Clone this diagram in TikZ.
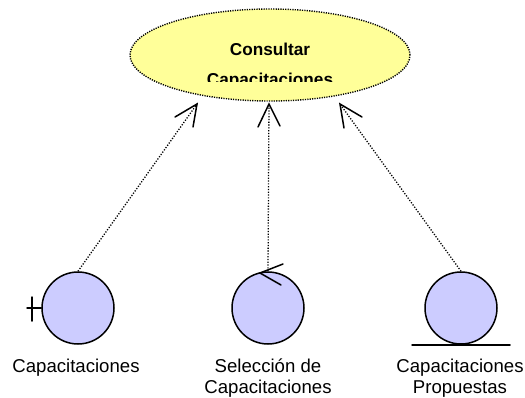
\documentclass[tikz,border=0pt]{standalone}
\usepackage{fontspec}
\setmainfont{Liberation Sans}
\usetikzlibrary{shapes.geometric}
\definecolor{uyellow}{HTML}{FFFF99}
\definecolor{ublue}{HTML}{CCCCFF}
\tikzset{
  x=1pt,y=-1pt,
  usecase/.style={ellipse,draw=black,fill=uyellow,dash pattern=on 1.2pt off 1.2pt,line width=1.4pt,minimum width=280pt,minimum height=92pt,inner sep=0pt},
  robust/.style={circle,draw=black,fill=ublue,line width=1.5pt,minimum size=72pt,inner sep=0pt},
  solidline/.style={line width=1.5pt,line cap=round},
  dep/.style={dash pattern=on 1.2pt off 1.6pt,line width=1.3pt},
  lbl/.style={font=\fontsize{18.6}{21.5}\selectfont,align=center,inner sep=0pt,text=black,anchor=base},
  ttl/.style={font=\fontsize{17.2}{20}\bfseries\selectfont,inner sep=0pt,anchor=base}
}
\begin{document}
\begin{tikzpicture}
\useasboundingbox (0,0) rectangle (525,397);
\node[usecase] (uc) at (270,55) {};
\begin{scope}
\clip (130,30) rectangle (410,81.5);
\node[ttl] (t1) at (270,55) {Consultar};
\node[ttl] (t2) at (270,85) {Capacitaciones};
\end{scope}
\node[robust] (a) at (78,308) {};
\node[robust] (b) at (268,308) {};
\node[robust] (c) at (461,308) {};
\coordinate (ta) at (197,104);
\coordinate (tb) at (269,104);
\coordinate (tc) at (340,104);
\coordinate (ab) at (27,308);
\draw[dep] (a.north) -- (ta);
\draw[dep] (b.north) -- (tb);
\draw[dep] (c.north) -- (tc);
\draw[solidline] (175,117) -- (ta) -- (193,127);
\draw[solidline] (258,127) -- (tb) -- (280,126);
\draw[solidline] (362,117) -- (tc) -- (344,128);
% boundary
\draw[solidline] (a.west) -- (ab);
\draw[solidline] (32,297) -- (32,321);
% control
\draw[solidline] (283,264) -- (260,273) -- (281,285);
% entity
\draw[solidline] (412,345) -- (510,345);
\node[lbl] (la) at (76,372) {Capacitaciones};
\node[lbl] (lb1) at (268,372) {Selección de};
\node[lbl] (lb2) at (268,393) {Capacitaciones};
\node[lbl] (lc1) at (460,372) {Capacitaciones};
\node[lbl] (lc2) at (460,393) {Propuestas};
\end{tikzpicture}
\end{document}
